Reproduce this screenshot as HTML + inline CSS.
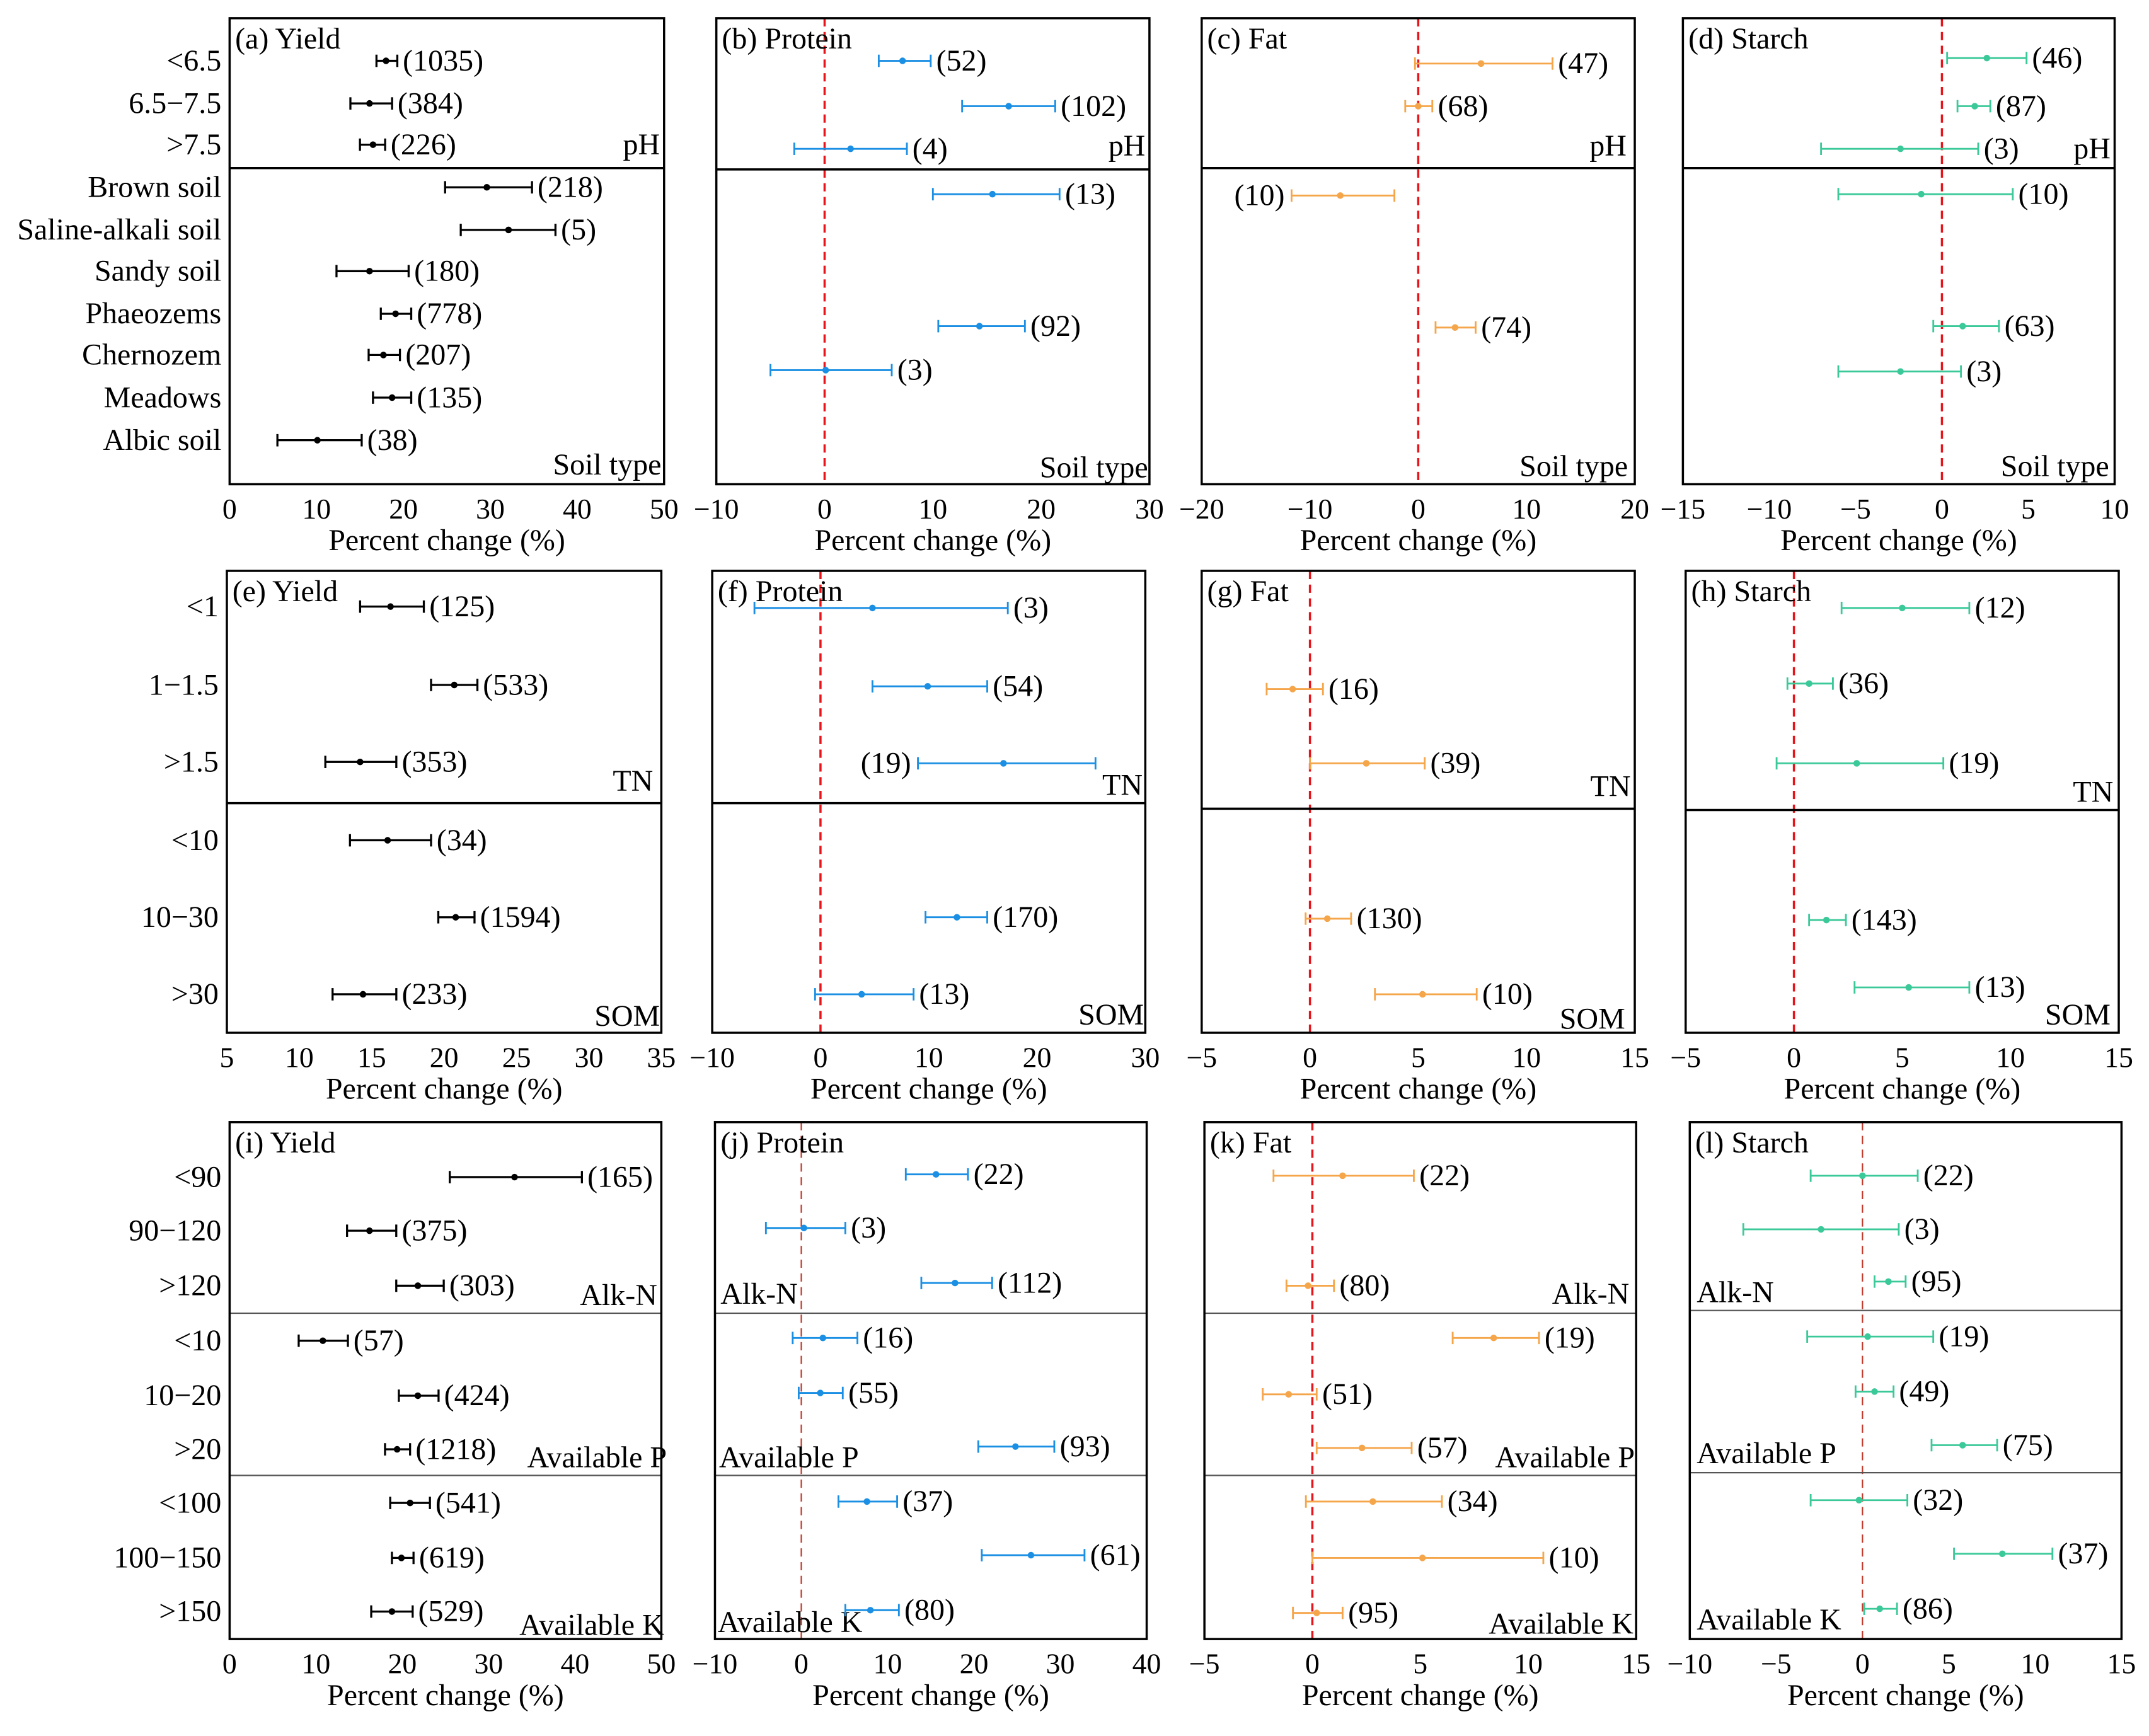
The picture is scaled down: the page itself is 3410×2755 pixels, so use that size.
<!DOCTYPE html>
<html><head><meta charset="utf-8"><style>
html,body{margin:0;padding:0;background:#fff;}
svg, svg text{font-family:"Liberation Serif","Times New Roman",serif;}
</style></head><body>
<svg id="chart" width="3410" height="2750" viewBox="0 0 1563 1260" xmlns="http://www.w3.org/2000/svg" font-family="Liberation Serif, serif"></svg>
<script>
// ---- data (mean, lower CI, upper CI, sample size) ----
const aCats=["<6.5","6.5\u22127.5",">7.5","Brown soil","Saline-alkali soil","Sandy soil","Phaeozems","Chernozem","Meadows","Albic soil"];
const aMean=[18.0,16.1,16.5,29.6,32.1,16.1,19.1,17.7,18.7,10.1];
const aLo=[16.9,13.9,15.0,24.8,26.6,12.3,17.4,16.0,16.5,5.5];
const aHi=[19.3,18.7,17.9,34.8,37.5,20.6,20.9,19.6,20.9,15.2];
const aN=[1035,384,226,218,5,180,778,207,135,38];

const bMean=[7.2,17.0,2.4,15.5,14.3,0.1];
const bLo=[5.0,12.7,-2.8,10.0,10.5,-5.0];
const bHi=[9.8,21.3,7.6,21.7,18.5,6.2];
const bN=[52,102,4,13,92,3];

const cMean=[5.8,0.0,-7.2,3.4];
const cLo=[-0.3,-1.2,-11.7,1.6];
const cHi=[12.4,1.3,-2.2,5.3];
const cN=[47,68,10,74];

const dMean=[2.6,1.9,-2.4,-1.2,1.2,-2.4];
const dLo=[0.3,0.9,-7.0,-6.0,-0.5,-6.0];
const dHi=[4.9,2.8,2.1,4.1,3.3,1.1];
const dN=[46,87,3,10,63,3];

const eCats=["<1","1\u22121.5",">1.5","<10","10\u221230",">30"];
const eMean=[16.3,20.7,14.2,16.1,20.8,14.4];
const eLo=[14.2,19.1,11.8,13.5,19.6,12.3];
const eHi=[18.6,22.3,16.7,19.1,22.1,16.7];
const eN=[125,533,353,34,1594,233];

const fMean=[4.8,9.9,16.9,12.6,3.8];
const fLo=[-6.1,4.8,9.0,9.7,-0.5];
const fHi=[17.3,15.4,25.4,15.4,8.6];
const fN=[3,54,19,170,13];

const gMean=[-0.8,2.6,0.8,5.2];
const gLo=[-2.0,0.0,-0.2,3.0];
const gHi=[0.6,5.3,1.9,7.7];
const gN=[16,39,130,10];

const hMean=[5.0,0.7,2.9,1.5,5.3];
const hLo=[2.2,-0.3,-0.8,0.7,2.8];
const hHi=[8.1,1.8,6.9,2.4,8.1];
const hN=[12,36,19,143,13];

const iCats=["<90","90\u2212120",">120","<10","10\u221220",">20","<100","100\u2212150",">150"];
const iMean=[33.0,16.2,21.8,10.8,21.8,19.4,20.9,19.9,18.8];
const iLo=[25.5,13.6,19.3,8.0,19.6,18.0,18.6,18.8,16.4];
const iHi=[40.8,19.3,24.8,13.7,24.2,20.9,23.2,21.3,21.2];
const iN=[165,375,303,57,424,1218,541,619,529];

const jMean=[15.6,0.3,17.8,2.5,2.2,24.8,7.6,26.6,8.0];
const jLo=[12.1,-4.1,13.9,-1.0,-0.3,20.5,4.3,20.9,5.1];
const jHi=[19.3,5.1,22.1,6.5,4.8,29.3,11.1,32.8,11.3];
const jN=[22,3,112,16,55,93,37,61,80];

const kMean=[1.4,-0.2,8.4,-1.1,2.3,2.8,5.1,0.2];
const kLo=[-1.8,-1.2,6.5,-2.3,0.2,-0.3,0.0,-0.9];
const kHi=[4.7,1.0,10.5,0.2,4.6,6.0,10.7,1.4];
const kN=[22,80,19,51,57,34,10,95];

const lMean=[0.0,-2.4,1.5,0.3,0.7,5.8,-0.2,8.1,1.0];
const lLo=[-3.0,-6.9,0.7,-3.2,-0.4,4.0,-3.0,5.3,0.1];
const lHi=[3.2,2.1,2.5,4.1,1.8,7.8,2.6,11.0,2.0];
const lN=[22,3,95,19,49,75,32,37,86];

const xTicksA=[0,10,20,30,40,50], xTicksB=[-10,0,10,20,30], xTicksC=[-20,-10,0,10,20], xTicksD=[-15,-10,-5,0,5,10];
const xTicksE=[5,10,15,20,25,30,35], xTicksGH=[-5,0,5,10,15];
const xTicksJ=[-10,0,10,20,30,40], xTicksL=[-10,-5,0,5,10,15];

// ---- layout ----
const BLACK="#000", BLUE="#1a8fe3", ORANGE="#f5a54a", GREEN="#3cc99a";
const FONT="Liberation Serif, Times New Roman, serif";
const FS=22;
const panels=[
 {id:"a",title:"(a) Yield",x0:167,x1:483,y0:13,y1:352,min:0,max:50,ticks:xTicksA,col:BLACK,div:[122],
  mean:aMean,lo:aLo,hi:aHi,n:aN,rows:[44,75,105,136,167,197,228,258,289,320],cats:aCats,
  groups:[["pH",480,112,"end"],["Soil type",481,345,"end"]]},
 {id:"b",title:"(b) Protein",x0:521,x1:836,y0:13,y1:352,min:-10,max:30,ticks:xTicksB,col:BLUE,div:[123],zero:true,
  mean:bMean,lo:bLo,hi:bHi,n:bN,rows:[44,77,108,141,237,269],
  groups:[["pH",833,113,"end"],["Soil type",835,347,"end"]]},
 {id:"c",title:"(c) Fat",x0:874,x1:1189,y0:13,y1:352,min:-20,max:20,ticks:xTicksC,col:ORANGE,div:[122],zero:true,
  mean:cMean,lo:cLo,hi:cHi,n:cN,rows:[46,77,142,238],left:[2],
  groups:[["pH",1183,113,"end"],["Soil type",1184,346,"end"]]},
 {id:"d",title:"(d) Starch",x0:1224,x1:1538,y0:13,y1:352,min:-15,max:10,ticks:xTicksD,col:GREEN,div:[122],zero:true,
  mean:dMean,lo:dLo,hi:dHi,n:dN,rows:[42,77,108,141,237,270],
  groups:[["pH",1535,115,"end"],["Soil type",1534,346,"end"]]},
 {id:"e",title:"(e) Yield",x0:165,x1:481,y0:415,y1:751,min:5,max:35,ticks:xTicksE,col:BLACK,div:[584],
  mean:eMean,lo:eLo,hi:eHi,n:eN,rows:[441,498,554,611,667,723],cats:eCats,
  groups:[["TN",475,575,"end"],["SOM",480,746,"end"]]},
 {id:"f",title:"(f) Protein",x0:518,x1:833,y0:415,y1:751,min:-10,max:30,ticks:xTicksB,col:BLUE,div:[584],zero:true,
  mean:fMean,lo:fLo,hi:fHi,n:fN,rows:[442,499,555,667,723],left:[2],
  groups:[["TN",831,578,"end"],["SOM",832,745,"end"]]},
 {id:"g",title:"(g) Fat",x0:874,x1:1189,y0:415,y1:751,min:-5,max:15,ticks:xTicksGH,col:ORANGE,div:[588],zero:true,
  mean:gMean,lo:gLo,hi:gHi,n:gN,rows:[501,555,668,723],
  groups:[["TN",1186,579,"end"],["SOM",1182,748,"end"]]},
 {id:"h",title:"(h) Starch",x0:1226,x1:1541,y0:415,y1:751,min:-5,max:15,ticks:xTicksGH,col:GREEN,div:[589],zero:true,
  mean:hMean,lo:hLo,hi:hHi,n:hN,rows:[442,497,555,669,718],
  groups:[["TN",1537,583,"end"],["SOM",1535,745,"end"]]},
 {id:"i",title:"(i) Yield",x0:167,x1:481,y0:816,y1:1192,min:0,max:50,ticks:xTicksA,col:BLACK,div:[955,1073],
  mean:iMean,lo:iLo,hi:iHi,n:iN,rows:[856,895,935,975,1015,1054,1093,1133,1172],cats:iCats,
  groups:[["Alk-N",478,949,"end"],["Available P",485,1067,"end"],["Available K",483,1189,"end"]]},
 {id:"j",title:"(j) Protein",x0:520,x1:834,y0:816,y1:1192,min:-10,max:40,ticks:xTicksJ,col:BLUE,div:[955,1073],zero:true,thin:true,
  mean:jMean,lo:jLo,hi:jHi,n:jN,rows:[854,893,933,973,1013,1052,1092,1131,1171],
  groups:[["Alk-N",524,948,"start"],["Available P",523,1067,"start"],["Available K",522,1187,"start"]]},
 {id:"k",title:"(k) Fat",x0:876,x1:1190,y0:816,y1:1192,min:-5,max:15,ticks:xTicksGH,col:ORANGE,div:[955,1073],zero:true,
  mean:kMean,lo:kLo,hi:kHi,n:kN,rows:[855,935,973,1014,1053,1092,1133,1173],
  groups:[["Alk-N",1185,948,"end"],["Available P",1189,1067,"end"],["Available K",1188,1188,"end"]]},
 {id:"l",title:"(l) Starch",x0:1229,x1:1543,y0:816,y1:1192,min:-10,max:15,ticks:xTicksL,col:GREEN,div:[953,1071],zero:true,thin:true,
  mean:lMean,lo:lLo,hi:lHi,n:lN,rows:[855,894,932,972,1012,1051,1091,1130,1170],
  groups:[["Alk-N",1234,947,"start"],["Available P",1234,1064,"start"],["Available K",1234,1185,"start"]]}
];
const NS="http://www.w3.org/2000/svg";
const svg=document.getElementById("chart");
function mk(tag,attrs,parent){const e=document.createElementNS(NS,tag);for(const k in attrs)e.setAttribute(k,attrs[k]);if(tag==="text")e.setAttribute("font-family",FONT);(parent||svg).appendChild(e);return e;}
function fmt(v){return v<0?"\u2212"+Math.abs(v):String(v);}

panels.forEach(p=>{
  const g=mk("g",{});
  
  
  const sx=v=>p.x0+(v-p.min)/(p.max-p.min)*(p.x1-p.x0);
  if(p.zero){
    const z=mk("line",{x1:sx(0),x2:sx(0),y1:p.y0,y2:p.y1,stroke:p.thin?"#c0392b":"#e8141a","stroke-width":p.thin?1:1.6,"stroke-dasharray":"6,4"},g);
    
    
  }
  p.div.forEach(dy=>{
    const d=mk("line",{x1:p.x0,x2:p.x1,y1:dy,y2:dy,stroke:p.div.length>1?"#555":"#000","stroke-width":p.div.length>1?1:1.6},g);
    
    
  });
  const fr=mk("rect",{x:p.x0,y:p.y0,width:p.x1-p.x0,height:p.y1-p.y0,fill:"none",stroke:"#000","stroke-width":1.6},g);
  
  
  const t=mk("text",{x:p.x0+4,y:p.y0+22,"font-size":FS},g);t.textContent=p.title;
  
  
  p.groups.forEach(gr=>{
    const gl=mk("text",{x:gr[1],y:gr[2],"font-size":FS,"text-anchor":gr[3]},g);gl.textContent=gr[0];
    
    
  });
  p.ticks.forEach(tv=>{
    const tl=mk("text",{x:sx(tv),y:p.y1+25,"font-size":21,"text-anchor":"middle"},g);tl.textContent=fmt(tv);
    
    
  });
  const xl=mk("text",{x:(p.x0+p.x1)/2,y:p.y1+48,"font-size":FS,"text-anchor":"middle"},g);xl.textContent="Percent change (%)";
  
  
  if(p.cats){p.cats.forEach((c,i)=>{
    const cl=mk("text",{x:p.x0-6,y:p.rows[i]+7,"font-size":FS,"text-anchor":"end"},g);cl.textContent=c;
    
    
  });}
  p.mean.forEach((m,i)=>{
    const y=p.rows[i], xl0=sx(p.lo[i]), xh=sx(p.hi[i]);
    const eb=mk("g",{},g);
    
    
    const sw=p.col===BLACK?1.5:1.3;
    mk("line",{x1:xl0,x2:xh,y1:y,y2:y,stroke:p.col,"stroke-width":sw},eb);
    mk("line",{x1:xl0,x2:xl0,y1:y-4.5,y2:y+4.5,stroke:p.col,"stroke-width":sw},eb);
    mk("line",{x1:xh,x2:xh,y1:y-4.5,y2:y+4.5,stroke:p.col,"stroke-width":sw},eb);
    const pt=mk("circle",{cx:sx(m),cy:y,r:2.4,fill:p.col},g);
    
    
    const isLeft=p.left&&p.left.includes(i);
    const nl=mk("text",{x:isLeft?xl0-5:xh+4,y:y+7,"font-size":FS,"text-anchor":isLeft?"end":"start"},g);
    nl.textContent="("+p.n[i]+")";
    
    
  });
});
</script>
</body></html>
